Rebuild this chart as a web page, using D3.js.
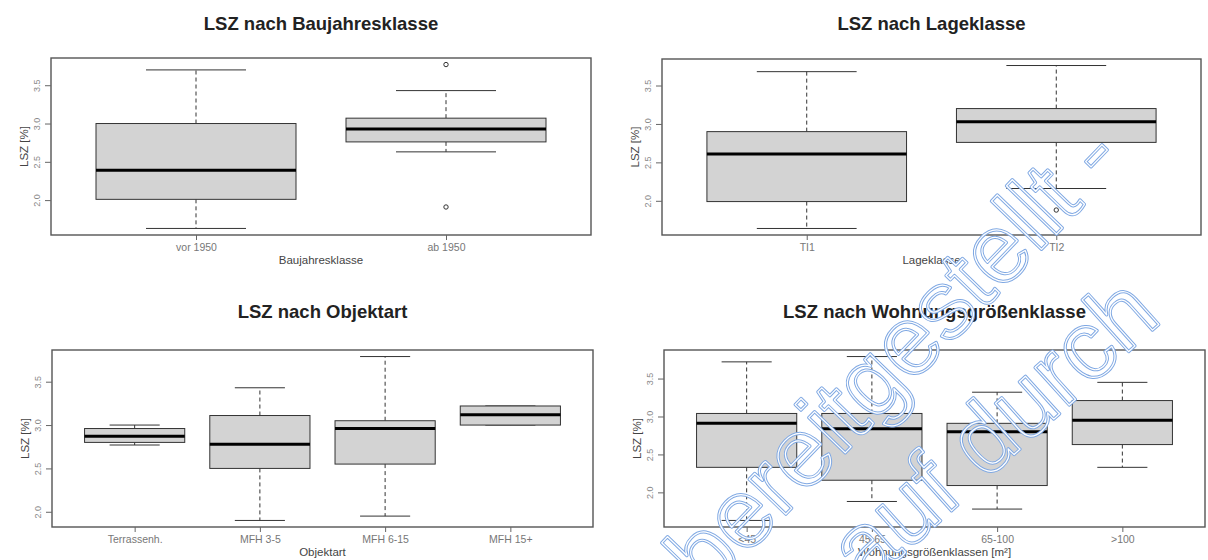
<!DOCTYPE html>
<html>
<head>
<meta charset="utf-8">
<script src="https://cdn.jsdelivr.net/npm/d3@7"></script>
<style>
  body { margin: 0; background: #fff; }
  svg { display: block; }
</style>
</head>
<body>
<div id="chart"></div>
<script>
const width = 1208;
const height = 560;

// box stats per class: [lower whisker, Q1, median, Q3, upper whisker]
const baujahrClasses = ["vor 1950", "ab 1950"];
const baujahrStats = [
  [1.63, 2.01, 2.39, 3.00, 3.70],
  [2.63, 2.76, 2.93, 3.07, 3.43]
];
const baujahrOutliers = [[], [3.77, 1.91]];

const lageClasses = ["TI1", "TI2"];
const lageStats = [
  [1.64, 1.99, 2.61, 2.90, 3.68],
  [2.16, 2.76, 3.03, 3.20, 3.76]
];
const lageOutliers = [[], [1.88]];

const objektClasses = ["Terrassenh.", "MFH 3-5", "MFH 6-15", "MFH 15+"];
const objektStats = [
  [2.77, 2.80, 2.87, 2.96, 3.00],
  [1.90, 2.50, 2.78, 3.11, 3.43],
  [1.95, 2.55, 2.96, 3.05, 3.79],
  [3.00, 3.00, 3.12, 3.22, 3.22]
];
const objektOutliers = [[], [], [], []];

const groesseClasses = ["<45", "45-65", "65-100", ">100"];
const groesseStats = [
  [1.63, 2.33, 2.91, 3.04, 3.72],
  [1.88, 2.16, 2.84, 3.04, 3.79],
  [1.78, 2.09, 2.80, 2.91, 3.32],
  [2.33, 2.63, 2.95, 3.21, 3.45]
];
const groesseOutliers = [[], [], [], []];

const yTicks = [2.0, 2.5, 3.0, 3.5];

const panels = [
  { title: "LSZ nach Baujahresklasse", xlab: "Baujahresklasse", classes: baujahrClasses,
    stats: baujahrStats, outliers: baujahrOutliers, left: 51, right: 591, top: 58, bottom: 235, titleY: 30 },
  { title: "LSZ nach Lageklasse", xlab: "Lageklasse", classes: lageClasses,
    stats: lageStats, outliers: lageOutliers, left: 662, right: 1201, top: 59, bottom: 235, titleY: 30 },
  { title: "LSZ nach Objektart", xlab: "Objektart", classes: objektClasses,
    stats: objektStats, outliers: objektOutliers, left: 52, right: 593, top: 350, bottom: 527, titleY: 318 },
  { title: "LSZ nach Wohnungsgrößenklasse", xlab: "Wohnungsgrößenklassen [m²]", classes: groesseClasses,
    stats: groesseStats, outliers: groesseOutliers, left: 664, right: 1205, top: 350, bottom: 527, titleY: 318 }
];

const font = "'Liberation Sans', Arial, Helvetica, sans-serif";

const svg = d3.select("#chart").append("svg")
  .attr("width", width)
  .attr("height", height)
  .style("font-family", font);

svg.append("rect").attr("width", width).attr("height", height).attr("fill", "#fff");

function drawPanel(p) {
  const g = svg.append("g");
  const n = p.classes.length;

  // R style: xlim 0.5..n+0.5, extended by 4%
  const x = d3.scaleLinear()
    .domain([0.5 - 0.04 * n, n + 0.5 + 0.04 * n])
    .range([p.left, p.right]);

  const all = p.stats.flat().concat(p.outliers.flat());
  const lo = d3.min(all), hi = d3.max(all), pad = (hi - lo) * 0.04;
  const y = d3.scaleLinear().domain([lo - pad, hi + pad]).range([p.bottom, p.top]);

  const boxes = g.selectAll("g.box")
    .data(p.stats.map((s, i) => ({ s: s, i: i + 1, out: p.outliers[i] })))
    .enter().append("g").attr("class", "box");

  // whiskers
  boxes.append("line")
    .attr("x1", d => x(d.i)).attr("x2", d => x(d.i))
    .attr("y1", d => y(d.s[3])).attr("y2", d => y(d.s[4]))
    .attr("stroke", "#333").attr("stroke-dasharray", "4,3");
  boxes.append("line")
    .attr("x1", d => x(d.i)).attr("x2", d => x(d.i))
    .attr("y1", d => y(d.s[1])).attr("y2", d => y(d.s[0]))
    .attr("stroke", "#333").attr("stroke-dasharray", "4,3");

  // staples
  [0, 4].forEach(k => {
    boxes.append("line")
      .attr("x1", d => x(d.i - 0.2)).attr("x2", d => x(d.i + 0.2))
      .attr("y1", d => y(d.s[k])).attr("y2", d => y(d.s[k]))
      .attr("stroke", "#333");
  });

  boxes.append("rect")
    .attr("x", d => x(d.i - 0.4))
    .attr("width", d => x(d.i + 0.4) - x(d.i - 0.4))
    .attr("y", d => y(d.s[3]))
    .attr("height", d => y(d.s[1]) - y(d.s[3]))
    .attr("fill", "#d3d3d3")
    .attr("stroke", "#333");

  boxes.append("line")
    .attr("x1", d => x(d.i - 0.4)).attr("x2", d => x(d.i + 0.4))
    .attr("y1", d => y(d.s[2])).attr("y2", d => y(d.s[2]))
    .attr("stroke", "#000").attr("stroke-width", 3);

  boxes.selectAll("circle")
    .data(d => d.out.map(v => ({ v: v, i: d.i })))
    .enter().append("circle")
    .attr("cx", d => x(d.i)).attr("cy", d => y(d.v)).attr("r", 2.2)
    .attr("fill", "none").attr("stroke", "#333");

  // frame
  g.append("rect")
    .attr("x", p.left).attr("y", p.top)
    .attr("width", p.right - p.left).attr("height", p.bottom - p.top)
    .attr("fill", "none").attr("stroke", "#555").attr("stroke-width", 1.4);

  // y axis
  const ya = g.append("g").attr("transform", `translate(${p.left},0)`)
    .call(d3.axisLeft(y).tickValues(yTicks).tickFormat(d3.format(".1f")).tickSize(6).tickSizeOuter(0));
  ya.select(".domain").remove();
  ya.selectAll(".tick line").attr("stroke", "#666");
  ya.selectAll(".tick text")
    .attr("x", null).attr("dy", null)
    .attr("transform", "translate(-11,0) rotate(-90)")
    .attr("text-anchor", "middle")
    .attr("fill", "#888")
    .style("font-size", "9px")
    .style("font-family", font);

  // x axis
  const xa = g.append("g").attr("transform", `translate(0,${p.bottom})`)
    .call(d3.axisBottom(x).tickValues(d3.range(1, n + 1)).tickFormat(i => p.classes[i - 1]).tickSize(5).tickSizeOuter(0));
  xa.select(".domain").remove();
  xa.selectAll(".tick line").attr("stroke", "#666");
  xa.selectAll(".tick text")
    .attr("y", 16).attr("dy", null)
    .attr("fill", "#777")
    .style("font-size", "10.5px")
    .style("font-family", font);

  // titles
  const cx = (p.left + p.right) / 2;
  g.append("text").attr("x", cx).attr("y", p.titleY)
    .attr("text-anchor", "middle").attr("font-weight", "bold")
    .attr("font-size", 18.5).attr("fill", "#222").text(p.title);
  g.append("text").attr("x", cx).attr("y", p.bottom + 29)
    .attr("text-anchor", "middle").attr("font-size", 11.5).attr("fill", "#444").text(p.xlab);
  g.append("text")
    .attr("transform", `translate(${p.left - 23},${(p.top + p.bottom) / 2}) rotate(-90)`)
    .attr("text-anchor", "middle").attr("font-size", 11.5).attr("fill", "#444").text("LSZ [%]");
}

panels.forEach(drawPanel);

// watermark overlay (two outlined lines, slightly different angles)
const wmLines = [
  { text: "bereitgestellt -", tx: 1126, ty: 162, rot: -46, anchor: "end" },
  { text: "auf durch", tx: 866, ty: 588, rot: -42, anchor: "start" }
];
[["#7fa8e3", 3.2], ["#fff", 1.2]].forEach(([col, w]) => {
  svg.selectAll(null).data(wmLines).enter().append("text")
    .attr("transform", d => `translate(${d.tx},${d.ty}) rotate(${d.rot})`)
    .attr("text-anchor", d => d.anchor)
    .style("font-family", "'Liberation Sans', Arial, sans-serif")
    .attr("font-size", 96)
    .attr("fill", "none")
    .attr("stroke", col)
    .attr("stroke-width", w)
    .attr("stroke-linejoin", "round")
    .text(d => d.text);
});
</script>
</body>
</html>
